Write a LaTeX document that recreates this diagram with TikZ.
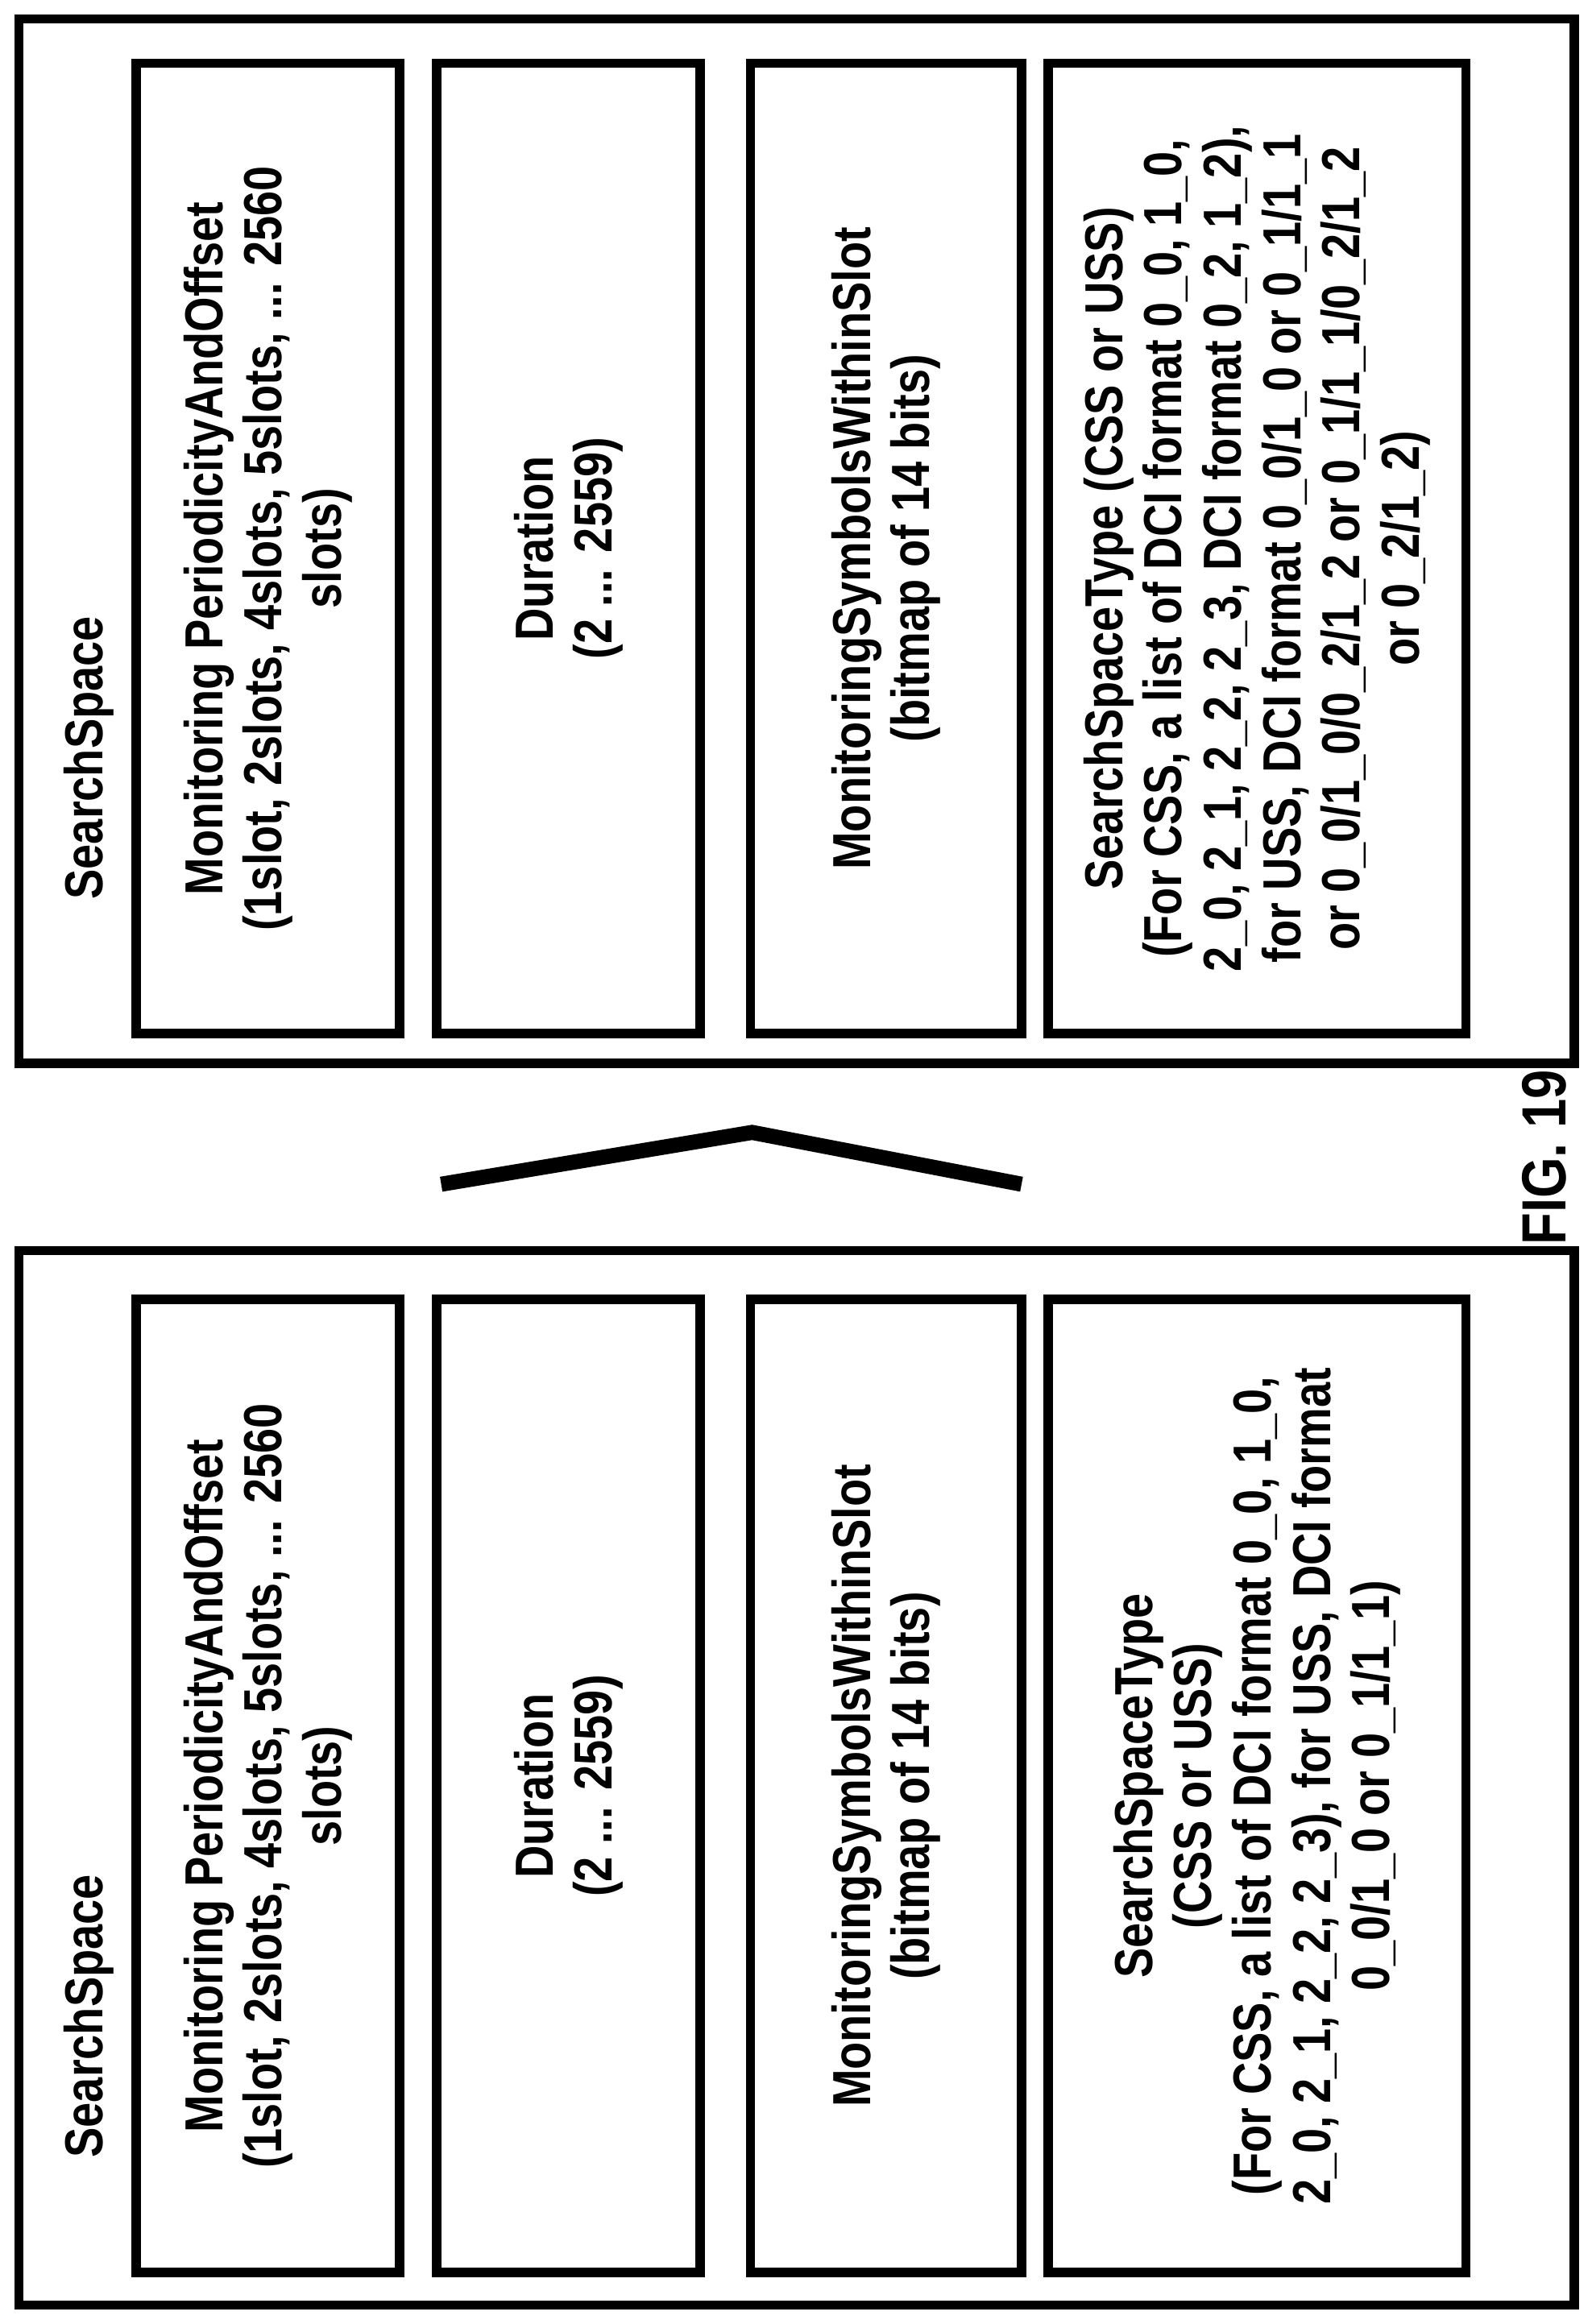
\documentclass[tikz,border=0pt]{standalone}
\usepackage{fontspec}
\setmainfont[FakeStretch=0.84]{Liberation Sans}
\begin{document}
\begin{tikzpicture}[x=0.01cm, y=-0.01cm]
    % ===================================
    % 設定
    % ===================================
    \tikzset{
        outer/.style={draw, line width=1.8pt, rotate=90, inner sep=0pt},
        field/.style={draw, line width=1.8pt, rotate=90, align=center, inner sep=0pt,
                      font=\fontsize{10.3}{11.4}\selectfont\bfseries},
        lbl/.style={rotate=90, font=\fontsize{10.3}{11.4}\selectfont\bfseries},
    }
    \useasboundingbox (0,0) rectangle (1075,1570);
    % ===================================

    % 1. 外枠
    \node[outer, minimum width=7.05cm, minimum height=10.5cm] (outR) at (538,365.5) {};
    \node[outer, minimum width=7.12cm, minimum height=10.5cm] (outL) at (538,1201) {};
    \node[lbl] (nameR) at (60,512) {SearchSpace};
    \node[lbl] (nameL) at (60,1362) {SearchSpace};

    % 2. 右側の項目
    \node[field, minimum width=6.55cm, minimum height=1.78cm] (r1) at (181,370.5)
        {Monitoring PeriodicityAndOffset\\(1slot, 2slots, 4slots, 5slots, ... 2560\\slots)};
    \node[field, minimum width=6.55cm, minimum height=1.78cm] (r2) at (384,370.5)
        {Duration\\(2 ... 2559)};
    \node[field, minimum width=6.55cm, minimum height=1.83cm] (r3) at (598.5,370.5)
        {MonitoringSymbolsWithinSlot\\(bitmap of 14 bits)};
    \node[field, minimum width=6.55cm, minimum height=2.82cm] (r4) at (849,370.5)
        {SearchSpaceType (CSS or USS)\\(For CSS, a list of DCI format 0\_0, 1\_0,\\2\_0, 2\_1, 2\_2, 2\_3, DCI format 0\_2, 1\_2),\\for USS, DCI format 0\_0/1\_0 or 0\_1/1\_1\\or 0\_0/1\_0/0\_2/1\_2 or 0\_1/1\_1/0\_2/1\_2\\or 0\_2/1\_2)};

    % 3. 左側の項目
    \node[field, minimum width=6.57cm, minimum height=1.78cm] (l1) at (181,1206.5)
        {Monitoring PeriodicityAndOffset\\(1slot, 2slots, 4slots, 5slots, ... 2560\\slots)};
    \node[field, minimum width=6.57cm, minimum height=1.78cm] (l2) at (384,1206.5)
        {Duration\\(2 ... 2559)};
    \node[field, minimum width=6.57cm, minimum height=1.83cm] (l3) at (598.5,1206.5)
        {MonitoringSymbolsWithinSlot\\(bitmap of 14 bits)};
    \node[field, minimum width=6.57cm, minimum height=2.82cm] (l4) at (849,1206.5)
        {SearchSpaceType\\(CSS or USS)\\(For CSS, a list of DCI format 0\_0, 1\_0,\\2\_0, 2\_1, 2\_2, 2\_3), for USS, DCI format\\0\_0/1\_0 or 0\_1/1\_1)};

    % 4. 山形の記号
    \coordinate (c1) at (298,800);
    \coordinate (c2) at (508,765);
    \coordinate (c3) at (690,800);
    \draw[line width=2.9pt] (c1) -- (c2) -- (c3);

    \node[rotate=90, font=\fontsize{12}{14}\selectfont\bfseries] (fig) at (1043,782) {FIG. 19};
\end{tikzpicture}
\end{document}
